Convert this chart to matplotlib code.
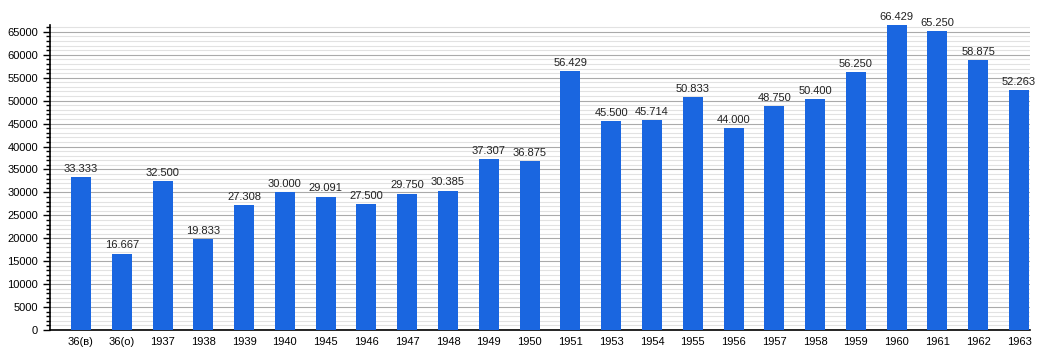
import numpy as np
import matplotlib
matplotlib.use("Agg")
import matplotlib.pyplot as plt
from matplotlib.ticker import MultipleLocator

categorias = ["36(в)", "36(о)", "1937", "1938", "1939", "1940", "1945", "1946",
              "1947", "1948", "1949", "1950", "1951", "1953", "1954", "1955",
              "1956", "1957", "1958", "1959", "1960", "1961", "1962", "1963"]
valores = [33333, 16667, 32500, 19833, 27308, 30000, 29091, 27500,
           29750, 30385, 37307, 36875, 56429, 45500, 45714, 50833,
           44000, 48750, 50400, 56250, 66429, 65250, 58875, 52263]
etiquetas = ["33.333", "16.667", "32.500", "19.833", "27.308", "30.000", "29.091", "27.500",
             "29.750", "30.385", "37.307", "36.875", "56.429", "45.500", "45.714", "50.833",
             "44.000", "48.750", "50.400", "56.250", "66.429", "65.250", "58.875", "52.263"]

plt.rcParams['font.family'] = ['Liberation Sans', 'DejaVu Sans']

fig = plt.figure(figsize=(10.5, 3.6), dpi=100)
ax = fig.add_axes([0.0476, 0.0833, 0.9334, 0.8473])

x = np.arange(len(categorias))
barres = ax.bar(x, valores, width=0.49, color="#1a66e0", zorder=3, clip_on=False)
for xi, v, t in zip(x, valores, etiquetas):
    ax.text(xi, v + 700, t, ha="center", va="bottom", fontsize=8, color="#222222")

ax.set_xlim(-0.76, 23.27)
ax.set_ylim(0, 66500)
ax.yaxis.set_major_locator(MultipleLocator(5000))
ax.yaxis.set_minor_locator(MultipleLocator(1000))
ax.grid(which="major", axis="y", color="#aaaaaa", linewidth=0.8, zorder=0)
ax.grid(which="minor", axis="y", color="#e2e2e2", linewidth=0.8, zorder=0)
ax.set_xticks(x)
ax.set_xticklabels(categorias)
ax.tick_params(axis="x", length=0, labelsize=8, pad=5)
ax.tick_params(axis="y", which="major", length=5, labelsize=8, direction="out", width=1)
ax.tick_params(axis="y", which="minor", length=3, direction="out", width=1)
for s in ["top", "right"]:
    ax.spines[s].set_visible(False)
ax.spines["left"].set_linewidth(1.2)
ax.spines["bottom"].set_linewidth(1.2)

fig.savefig("out.png", dpi=100)
